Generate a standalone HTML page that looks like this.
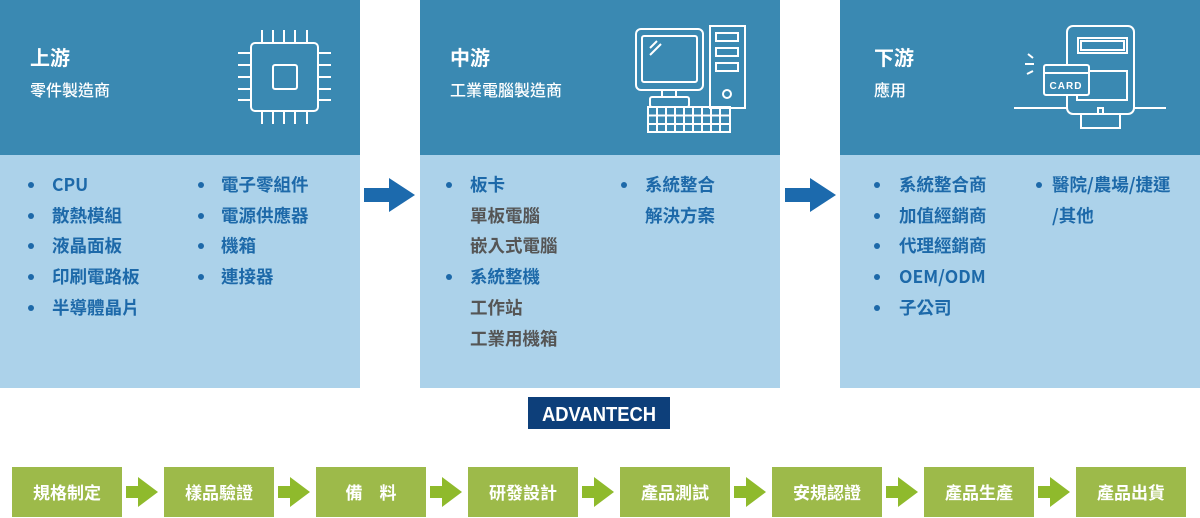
<!DOCTYPE html>
<html><head><meta charset="utf-8"><style>
*{margin:0;padding:0;box-sizing:border-box}
body{width:1200px;height:518px;background:#fff;position:relative;overflow:hidden;font-family:"Liberation Sans","Noto Sans CJK TC",sans-serif}
.h{position:absolute;top:0;height:155px;width:360px;background:#3a89b2}
.b{position:absolute;top:155px;height:233px;width:360px;background:#acd2ea}
.t{position:absolute;color:#fff;font-weight:bold;font-size:20px;line-height:24px;font-family:"Noto Sans CJK TC",sans-serif}
.s{position:absolute;color:#fff;font-size:16px;line-height:20px;font-family:"Noto Sans CJK TC",sans-serif;font-weight:500}
.i{position:absolute;color:#1d69a9;font-size:17.5px;line-height:22px;font-weight:bold;white-space:nowrap;font-family:"Noto Sans CJK TC",sans-serif}
.g{color:#555}
.d{position:absolute;width:6px;height:6px;border-radius:50%;background:#1d69a9}
.gb{position:absolute;top:467px;width:110px;height:50px;background:#9dba4a;color:#fff;font-weight:bold;font-size:17px;line-height:50px;text-align:center;font-family:"Noto Sans CJK TC",sans-serif}
svg{position:absolute;left:0;top:0}
</style></head><body>
<div class="h" style="left:0"></div><div class="b" style="left:0"></div>
<div class="h" style="left:420px"></div><div class="b" style="left:420px"></div>
<div class="h" style="left:840px"></div><div class="b" style="left:840px"></div>

<div class="t" style="left:30px;top:45px">上游</div><div class="s" style="left:30px;top:79px">零件製造商</div>
<div class="t" style="left:450px;top:45px">中游</div><div class="s" style="left:450px;top:79px">工業電腦製造商</div>
<div class="t" style="left:874px;top:45px">下游</div><div class="s" style="left:874px;top:79px">應用</div>

<svg width="1200" height="518" viewBox="0 0 1200 518">
<g fill="none" stroke="#fff" stroke-width="2">
<rect x="251" y="43" width="67" height="68" rx="4"/>
<rect x="273" y="65" width="24" height="24" rx="2"/>
<path d="M262 30v13M273 30v13M284 30v13M295 30v13M307 30v13M262 111v13M273 111v13M284 111v13M295 111v13M307 111v13M238 53h13M238 65h13M238 77h13M238 89h13M238 100h13M318 53h13M318 65h13M318 77h13M318 89h13M318 100h13"/>
<rect x="636" y="29" width="67" height="61" rx="5"/>
<rect x="642" y="36" width="55" height="46" rx="2"/>
<path d="M650 48l7-7M650 55l11-11"/>
<path d="M662 90v7M676 90v7"/>
<rect x="650" y="97" width="39" height="10" rx="2"/>
<rect x="710" y="26" width="35" height="82"/>
<rect x="716" y="33" width="22" height="8"/><rect x="716" y="48" width="22" height="8"/><rect x="716" y="63" width="22" height="8"/>
<circle cx="727" cy="94" r="4"/>
<rect x="648" y="107" width="82" height="25"/>
<path d="M648 115.5h82M648 124h82M657 107v25M666 107v25M675 107v25M684 107v25M693 107v25M702 107v25M711 107v25M720 107v25"/>
<path d="M1014 108h53M1134 108h32"/>
<path d="M1067 108V32a6 6 0 0 1 6-6h55a6 6 0 0 1 6 6v76a6 6 0 0 1-6 6h-55a6 6 0 0 1-6-6z"/>
<rect x="1078" y="38" width="49" height="15"/><rect x="1081" y="41" width="43" height="9"/>
<rect x="1077" y="71" width="50" height="29"/>
<rect x="1044" y="65" width="45" height="30" rx="2" fill="#3a89b2"/>
<path d="M1044 73h45"/>
<rect x="1098" y="108" width="5" height="6"/>
<rect x="1081" y="114" width="39" height="14"/>
<path d="M1028 54l5 4M1025 64h9M1027 74l6-3"/>
</g>
<text x="1066" y="89" fill="#fff" font-family="Liberation Sans" font-weight="bold" font-size="10" text-anchor="middle" letter-spacing="1">CARD</text>
<path d="M364 188h25v-10l26 17-26 17v-10h-25z" fill="#1c6aad"/>
<path d="M785 188h25v-10l26 17-26 17v-10h-25z" fill="#1c6aad"/>
<rect x="528" y="397" width="142" height="32" fill="#0d3f7a"/>
<text x="599" y="421" fill="#fff" font-family="Liberation Sans" font-weight="bold" font-size="20" text-anchor="middle" textLength="114" lengthAdjust="spacingAndGlyphs">ADVANTECH</text>
<g fill="#8fba2c">
<path d="M126 486h12v-9l20 15-20 15v-9h-12z"/>
<path d="M278 486h12v-9l20 15-20 15v-9h-12z"/>
<path d="M430 486h12v-9l20 15-20 15v-9h-12z"/>
<path d="M582 486h12v-9l20 15-20 15v-9h-12z"/>
<path d="M734 486h12v-9l20 15-20 15v-9h-12z"/>
<path d="M886 486h12v-9l20 15-20 15v-9h-12z"/>
<path d="M1038 486h12v-9l20 15-20 15v-9h-12z"/>
</g>
</svg>

<div class="d" style="left:28px;top:182px"></div><div class="i" style="left:52px;top:174px">CPU</div>
<div class="d" style="left:28px;top:213px"></div><div class="i" style="left:52px;top:205px">散熱模組</div>
<div class="d" style="left:28px;top:243px"></div><div class="i" style="left:52px;top:235px">液晶面板</div>
<div class="d" style="left:28px;top:274px"></div><div class="i" style="left:52px;top:266px">印刷電路板</div>
<div class="d" style="left:28px;top:305px"></div><div class="i" style="left:52px;top:297px">半導體晶片</div>
<div class="d" style="left:198px;top:182px"></div><div class="i" style="left:221px;top:174px">電子零組件</div>
<div class="d" style="left:198px;top:213px"></div><div class="i" style="left:221px;top:205px">電源供應器</div>
<div class="d" style="left:198px;top:243px"></div><div class="i" style="left:221px;top:235px">機箱</div>
<div class="d" style="left:198px;top:274px"></div><div class="i" style="left:221px;top:266px">連接器</div>
<div class="d" style="left:446px;top:182px"></div><div class="i" style="left:470px;top:174px">板卡</div>
<div class="i g" style="left:470px;top:205px">單板電腦</div>
<div class="i g" style="left:470px;top:235px">嵌入式電腦</div>
<div class="d" style="left:446px;top:274px"></div><div class="i" style="left:470px;top:266px">系統整機</div>
<div class="i g" style="left:470px;top:297px">工作站</div>
<div class="i g" style="left:470px;top:328px">工業用機箱</div>
<div class="d" style="left:621px;top:182px"></div><div class="i" style="left:645px;top:174px">系統整合</div>
<div class="i" style="left:645px;top:205px">解決方案</div>
<div class="d" style="left:874px;top:182px"></div><div class="i" style="left:899px;top:174px">系統整合商</div>
<div class="d" style="left:874px;top:213px"></div><div class="i" style="left:899px;top:205px">加值經銷商</div>
<div class="d" style="left:874px;top:243px"></div><div class="i" style="left:899px;top:235px">代理經銷商</div>
<div class="d" style="left:874px;top:274px"></div><div class="i" style="left:899px;top:266px">OEM/ODM</div>
<div class="d" style="left:874px;top:305px"></div><div class="i" style="left:899px;top:297px">子公司</div>
<div class="d" style="left:1036px;top:182px"></div><div class="i" style="left:1052px;top:174px">醫院/農場/捷運</div>
<div class="i" style="left:1052px;top:205px">/其他</div>

<div class="gb" style="left:12px">規格制定</div>
<div class="gb" style="left:164px">樣品驗證</div>
<div class="gb" style="left:316px">備　料</div>
<div class="gb" style="left:468px">研發設計</div>
<div class="gb" style="left:620px">產品測試</div>
<div class="gb" style="left:772px">安規認證</div>
<div class="gb" style="left:924px">產品生產</div>
<div class="gb" style="left:1076px">產品出貨</div>
</body></html>
